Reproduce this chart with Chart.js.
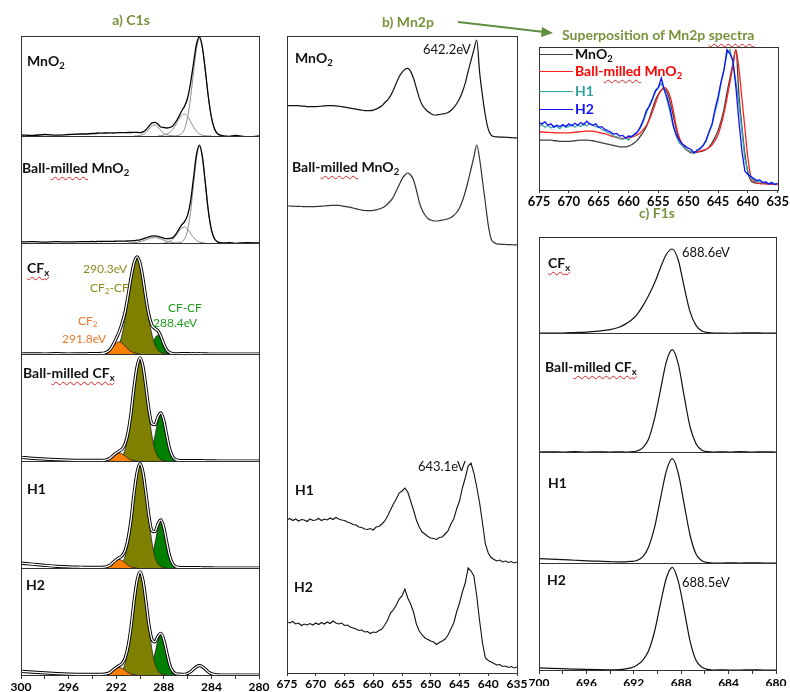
<!DOCTYPE html>
<html><head><meta charset="utf-8">
<script src="https://cdn.jsdelivr.net/npm/chart.js@4.4.1/dist/chart.umd.min.js"></script>
<style>
body{margin:0;background:#fff;width:790px;height:692px;position:relative;overflow:hidden;font-family:Lato,"Open Sans",sans-serif;}
canvas{position:absolute;left:0;top:0;}
.t{position:absolute;font-weight:bold;font-size:14px;white-space:nowrap;line-height:1;transform:translateY(-50%);color:#111;}
.c{transform:translate(-50%,-50%);}
.n{font-weight:normal;font-size:13px;}
.s{font-size:12px;}
.g{color:#77933C;font-size:14px;}
.sp{text-decoration:underline wavy #e02020;text-decoration-thickness:1px;text-underline-offset:3px;}
sub{font-size:68%;vertical-align:-0.28em;line-height:0;}
.lg{position:absolute;height:0;border-top:1.5px solid;}
</style></head><body>
<canvas id="c1s" width="790" height="692"></canvas>
<canvas id="mn2p" width="790" height="692"></canvas>
<canvas id="sup" width="790" height="692"></canvas>
<canvas id="f1s" width="790" height="692"></canvas>
<svg style="position:absolute;left:0;top:0" width="790" height="692"><line x1="458" y1="22" x2="544" y2="32" stroke="#5E8E3E" stroke-width="2"/><polygon points="553,33 542,27 541,37" fill="#5E8E3E"/></svg>

<div class="t g c" style="left:131px;top:20px">a) C1s</div>
<div class="t" style="left:27px;top:61px">MnO<sub>2</sub></div>
<div class="t" style="left:22px;top:168px">Ball-<span class="sp">milled</span> MnO<sub>2</sub></div>
<div class="t" style="left:27px;top:268px"><span class="sp">CF<sub>x</sub></span></div>
<div class="t n s" style="left:83px;top:269px;color:#8C8C1E">290.3eV</div>
<div class="t n s" style="left:90px;top:288px;color:#8C8C1E">CF<sub>2</sub>-CF</div>
<div class="t n s" style="left:78px;top:321px;color:#E8792A">CF<sub>2</sub></div>
<div class="t n s" style="left:62px;top:339px;color:#E8792A">291.8eV</div>
<div class="t n s" style="left:168px;top:308px;color:#1E9E1E">CF-CF</div>
<div class="t n s" style="left:153px;top:323px;color:#1E9E1E">288.4eV</div>
<div class="t" style="left:23px;top:373px">Ball-<span class="sp">milled CF<sub>x</sub></span></div>
<div class="t" style="left:27px;top:489px">H1</div>
<div class="t" style="left:26px;top:585px">H2</div>

<div class="t g c" style="left:408px;top:22px">b) Mn2p</div>
<div class="t" style="left:295px;top:58px">MnO<sub>2</sub></div>
<div class="t n" style="left:423px;top:49px">642.2eV</div>
<div class="t" style="left:292px;top:167px">Ball-<span class="sp">milled</span> MnO<sub>2</sub></div>
<div class="t n" style="left:418px;top:466px">643.1eV</div>
<div class="t" style="left:295px;top:490px">H1</div>
<div class="t" style="left:294px;top:587px">H2</div>

<div class="t g" style="left:562px;top:35px">Superposition of Mn2p <span class="sp">spectra</span></div>
<div class="lg" style="left:539px;top:54px;width:34px;border-color:#404040"></div>
<div class="t" style="left:575px;top:54px;color:#111">MnO<sub>2</sub></div>
<div class="lg" style="left:539px;top:71px;width:34px;border-color:#ff2020"></div>
<div class="t" style="left:575px;top:71px;color:#ff0000">Ball-<span class="sp">milled</span> MnO<sub>2</sub></div>
<div class="lg" style="left:539px;top:91px;width:34px;border-color:#3aa6a0"></div>
<div class="t" style="left:575px;top:91px;color:#30a0a0">H1</div>
<div class="lg" style="left:539px;top:109px;width:34px;border-color:#1010ff"></div>
<div class="t" style="left:575px;top:109px;color:#1010ff">H2</div>

<div class="t g c" style="left:657px;top:213px">c) F1s</div>
<div class="t" style="left:548px;top:263px"><span class="sp">CF<sub>x</sub></span></div>
<div class="t n" style="left:682px;top:252px">688.6eV</div>
<div class="t" style="left:545px;top:367px">Ball-<span class="sp">milled CF<sub>x</sub></span></div>
<div class="t" style="left:548px;top:483px">H1</div>
<div class="t" style="left:547px;top:580px">H2</div>
<div class="t n" style="left:682px;top:582px">688.5eV</div>

<script>
// ---------- C1s data ----------
const c1sEnergy = [300,299,298,297,296,295,294.5,294,293.75,293.5,293.25,293,292.75,292.5,292.25,292,291.75,291.5,291.25,291,290.75,290.5,290.25,290,289.75,289.5,289.25,289,288.75,288.5,288.25,288,287.75,287.5,287.25,287,286.75,286.5,286.25,286,285.75,285.5,285.25,285,284.75,284.5,284.25,284,283.75,283.5,283.25,283,282.5,282,281,280];
const c1sMnO2 = [.01,.005,.015,.008,.015,.02,.02,.025, .025,.03,.028,.03, .03,.032,.03,.032, .033,.033,.034,.035, .035,.036,.037,.033, .042,.063,.097,.13, .137,.12,.09,.085, .08,.085,.10,.14, .19,.25,.30,.38, .53,.73,.92,.99, .88,.645,.385,.19, .075,.025,.008,0, -.005,.005,-.008,0];
const c1sMnO2Comp1 = [[290.5,0],[290,.005],[289.5,.035],[289.25,.068],[289,.10],[288.75,.11],[288.5,.09],[288.25,.055],[288,.025],[287.5,.005],[287,0]];
const c1sMnO2Comp2 = [[288.5,0],[288,.01],[287.5,.035],[287.25,.065],[287,.11],[286.75,.165],[286.5,.205],[286.25,.22],[286,.195],[285.75,.145],[285.5,.09],[285.25,.048],[285,.02],[284.5,.003],[284,0]];
const c1sMnO2Comp3 = [[287,0],[286.5,.024],[286.25,.073],[286,.186],[285.75,.383],[285.5,.642],[285.25,.875],[285,.97],[284.75,.875],[284.5,.642],[284.25,.383],[284,.186],[283.75,.073],[283.5,.024],[283,0]];
const c1sBmMnO2 = [.01,.012,.008,.012,.01,.012,.012,.014, .013,.015,.014,.015, .015,.016,.016,.017, .017,.018,.018,.019, .02,.022,.026,.03, .038,.048,.058,.064, .066,.062,.054,.045, .04,.042,.05,.08, .125,.17,.20,.26, .39,.61,.83,.915, .80,.55,.295,.124, .042,.012,.004,0, .003,-.003,.004,0];
const c1sBmMnO2Comp1 = [[291,0],[290.5,.003],[290,.012],[289.5,.03],[289,.048],[288.75,.05],[288.5,.046],[288,.026],[287.5,.009],[287,.002],[286.5,0]];
const c1sBmMnO2Comp2 = [[288,0],[287.5,.014],[287.25,.034],[287,.067],[286.75,.107],[286.5,.14],[286.25,.15],[286,.129],[285.75,.091],[285.5,.052],[285.25,.024],[285,.009],[284.5,0]];
const c1sBmMnO2Comp3 = [[286.75,0],[286.5,.01],[286.25,.04],[286,.122],[285.75,.292],[285.5,.546],[285.25,.794],[285,.9],[284.75,.794],[284.5,.546],[284.25,.292],[284,.122],[283.75,.04],[283.5,.01],[283.25,0]];

const c1sCFx = [0,.002,0,.003,0,.002,.002,.003, .003,.004,.006,.009, .02,.042,.085,.14, .2,.28,.38,.53, .69,.82,.875,.82, .68,.50,.35,.26, .23,.21,.16,.09, .036,.012,.004,.002, .002,.003,.004,.003, .002,.003,.002,.003, .002,.002,0,0, 0,0,0,0, 0,0,0,0];
const cfxCF2 = [[293.75,0],[293.5,.001],[293.25,.004],[293,.01],[292.75,.022],[292.5,.042],[292.25,.07],[292,.097],[291.75,.11],[291.5,.097],[291.25,.07],[291,.042],[290.75,.022],[290.5,.01],[290.25,.004],[290,0]];
const cfxCF2CF = [[293,0],[292.75,.002],[292.5,.006],[292.25,.015],[292,.038],[291.75,.088],[291.5,.177],[291.25,.314],[291,.49],[290.75,.674],[290.5,.816],[290.25,.87],[290,.816],[289.75,.674],[289.5,.49],[289.25,.314],[289,.177],[288.75,.088],[288.5,.038],[288.25,.015],[288,.006],[287.75,.002],[287.5,0]];
const cfxCFCF = [[289.75,0],[289.5,.01],[289.25,.034],[289,.084],[288.75,.142],[288.5,.17],[288.25,.142],[288,.084],[287.75,.034],[287.5,.01],[287.25,.002],[287,0]];

const c1sBmCFx = [.035,.025,.018,.012,.008,.006,.005,.005, .005,.005,.005,.007, .014,.027,.052,.074, .092,.112,.16,.27, .45,.69,.88,.965, .885,.69,.48,.35, .34,.41,.45,.38, .24,.11,.04,.013, .006,.004,.003,.003, .003,.003,.004,.003, .003,.002,.002,.002, .001,0,0,0, 0,0,0,0];
const bmCF2 = [[293.5,0],[293,.003],[292.75,.01],[292.5,.024],[292.25,.046],[292,.066],[291.75,.075],[291.5,.066],[291.25,.046],[291,.024],[290.75,.01],[290.5,.003],[290.25,0]];
const bmCF2CF = [[292.25,0],[292,.004],[291.75,.013],[291.5,.042],[291.25,.109],[291,.24],[290.75,.44],[290.5,.68],[290.25,.88],[290,.96],[289.75,.88],[289.5,.68],[289.25,.44],[289,.24],[288.75,.109],[288.5,.042],[288.25,.013],[288,.004],[287.75,0]];
const bmCFCF = [[290,0],[289.75,.002],[289.5,.009],[289.25,.036],[289,.107],[288.75,.232],[288.5,.369],[288.25,.43],[288,.369],[287.75,.232],[287.5,.107],[287.25,.036],[287,.009],[286.75,.002],[286.5,0]];

const c1sH1 = [.045,.035,.025,.016,.01,.007,.006,.005, .005,.005,.006,.008, .015,.028,.054,.078, .097,.115,.165,.275, .455,.70,.89,.975, .895,.70,.485,.35, .34,.41,.45,.38, .24,.11,.04,.013, .006,.004,.003,.003, .003,.003,.003,.003, .002,.002,.002,.001, 0,0,0,0, 0,0,0,0];
const h1CF2 = [[293.5,0],[293,.003],[292.75,.011],[292.5,.026],[292.25,.049],[292,.07],[291.75,.08],[291.5,.07],[291.25,.049],[291,.026],[290.75,.011],[290.5,.003],[290.25,0]];
const h1CF2CF = [[292.25,0],[292,.004],[291.75,.014],[291.5,.043],[291.25,.11],[291,.242],[290.75,.444],[290.5,.686],[290.25,.89],[290,.97],[289.75,.89],[289.5,.686],[289.25,.444],[289,.242],[288.75,.11],[288.5,.043],[288.25,.014],[288,.004],[287.75,0]];
const h1CFCF = [[290,0],[289.75,.002],[289.5,.009],[289.25,.036],[289,.105],[288.75,.227],[288.5,.36],[288.25,.42],[288,.36],[287.75,.227],[287.5,.105],[287.25,.036],[287,.009],[286.75,.002],[286.5,0]];

const c1sH2 = [.035,.027,.02,.013,.008,.006,.005,.005, .005,.005,.006,.008, .013,.025,.048,.07, .088,.108,.158,.27, .45,.69,.88,.965, .885,.69,.47,.335, .31,.36,.39,.33, .21,.095,.035,.012, .008,.006,.007,.014, .03,.055,.077,.087, .077,.054,.028,.012, .005,.002,0,0, 0,0,0,0];
const h2CF2 = [[293.5,0],[293,.003],[292.75,.01],[292.5,.022],[292.25,.043],[292,.062],[291.75,.07],[291.5,.062],[291.25,.043],[291,.022],[290.75,.01],[290.5,.003],[290.25,0]];
const h2CF2CF = [[292.25,0],[292,.004],[291.75,.013],[291.5,.042],[291.25,.109],[291,.24],[290.75,.44],[290.5,.68],[290.25,.88],[290,.96],[289.75,.88],[289.5,.68],[289.25,.44],[289,.24],[288.75,.109],[288.5,.042],[288.25,.013],[288,.004],[287.75,0]];
const h2CFCF = [[290,0],[289.75,.002],[289.5,.008],[289.25,.031],[289,.092],[288.75,.20],[288.5,.317],[288.25,.37],[288,.317],[287.75,.20],[287.5,.092],[287.25,.031],[287,.008],[286.75,.002],[286.5,0]];

// ---------- Mn2p data (normalised) ----------
const mn2pEnergy = [675,674.5,674,673.5,673,672.5,672,671.5,671,670.5,670,669.5,669,668.5,668,667.5,667,666.5,666,665.5,665,664.5,664,663.5,663,662.5,662,661.5,661,660.5,660,659.5,659,658.5,658,657.5,657,656.5,656,655.5,655,654.5,654,653.5,653,652.5,652,651.5,651,650.5,650,649.5,649,648.5,648,647.5,647,646.5,646,645.5,645,644.5,644,643.5,643,642.5,642,641.5,641,640.5,640,639.5,639,638.5,638,637.5,637,636.5,636,635.5,635];
const mn2pMnO2 = [.33,.33,.33,.33,.33,.325,.325,.32,.32,.32, .32,.322,.325,.328,.33,.33,.33,.328,.325,.32, .315,.31,.305,.30,.295,.29,.285,.28,.28,.28, .285,.295,.31,.33,.36,.39,.43,.49,.56,.625, .67,.70,.71,.68,.61,.51,.41,.34,.30,.27, .25,.235,.235,.24,.245,.25,.26,.28,.31,.35, .40,.47,.56,.68,.79,.90,1.0,.67,.43,.23, .09,.03,.015,.012,.01,.01,.008,.006,.004,.002, 0];
const mn2pBmMnO2 = [.39,.39,.388,.387,.386,.385,.384,.383,.383,.383, .384,.386,.388,.39,.393,.395,.397,.397,.396,.392, .387,.382,.377,.37,.362,.355,.349,.345,.343,.343, .346,.352,.36,.37,.385,.41,.44,.48,.54,.60, .66,.70,.72,.70,.65,.55,.43,.35,.30,.265, .25,.242,.24,.243,.248,.255,.262,.275,.295,.325, .37,.44,.53,.64,.76,.88,1.0,.86,.64,.42, .20,.06,.025,.012,.008,.006,.005,.004,.003,.002, 0];
const mn2pH1 = [.43,.445,.425,.44,.42,.435,.43,.415,.44,.425, .43,.445,.425,.44,.43,.45,.435,.455,.44,.43, .425,.41,.40,.385,.38,.36,.355,.34,.335,.345, .33,.36,.365,.39,.42,.47,.53,.59,.64,.70, .72,.75,.71,.62,.53,.43,.36,.31,.29,.265, .25,.245,.235,.255,.26,.29,.32,.39,.44,.54, .62,.75,.85,.97,1.0,.90,.76,.60,.40,.19, .10,.055,.035,.02,.03,.01,.02,.005,.015,0, .01];
const mn2pH2 = [.46,.45,.465,.44,.45,.425,.44,.43,.445,.43, .45,.435,.455,.44,.46,.445,.47,.45,.44,.45, .425,.43,.41,.40,.39,.375,.38,.36,.365,.345, .36,.355,.375,.39,.43,.48,.55,.58,.63,.69, .72,.79,.70,.64,.56,.44,.37,.33,.30,.285, .27,.26,.235,.255,.27,.29,.33,.39,.45,.56, .65,.76,.85,1.0,.97,.92,.72,.47,.25,.10, .075,.06,.045,.03,.035,.015,.02,.005,.015,0, .01];

// ---------- F1s data ----------
const f1sEnergy = [700,699,698,697,696,695,694,693.25,692.75,692.25,691.75,691.25,690.75,690.25,689.75,689.25,688.75,688.25,687.75,687.25,686.75,686.25,685.75,685.25,684.5,684,683,682,681,680];
const f1sCFx = [0,0,0,.005,.01,.02,.035,.06,.09,.13,.19,.28,.39,.52,.68,.82,.875,.76,.48,.22,.08,.02,.005,0,0,-.003,0,.002,0,0];
const f1sBmCFx = [0,.002,0,.003,0,.002,0,.001,0,.002,.008,.035,.11,.28,.52,.76,.86,.74,.47,.21,.07,.015,.003,0,.002,0,.003,0,.002,0];
const f1sH1 = [.04,.035,.03,.025,.02,.016,.012,.01,.01,.014,.022,.055,.145,.32,.58,.83,.94,.81,.53,.25,.08,.02,.004,0,0,.002,0,.002,0,0];
const f1sH2 = [.02,.016,.012,.008,.005,.003,.002,.004,.009,.02,.045,.09,.18,.36,.62,.86,.96,.83,.56,.27,.09,.025,.006,0,.002,0,0,.002,0,0];

// ---------- helpers ----------
const FONT = 'Lato, "Open Sans", sans-serif';
const XY = (xs, ys) => xs.map((x, i) => ({x: x, y: ys[i]}));
const PR = pairs => pairs.map(p => ({x: p[0], y: p[1]}));
function ln(data, axis, color, width, order, extra) {
  return Object.assign({data: data, yAxisID: axis, borderColor: color, borderWidth: width, pointRadius: 0,
    fill: false, cubicInterpolationMode: 'monotone', order: order}, extra || {});
}
function area(data, axis, color, order) {
  return ln(data, axis, '#222', 0.8, order, {fill: 'origin', backgroundColor: color});
}
const boxPlugin = {
  id: 'boxes',
  afterDatasetsDraw(chart) {
    const ctx = chart.ctx, a = chart.chartArea;
    ctx.save(); ctx.strokeStyle = '#333'; ctx.lineWidth = 1;
    const ys = Object.values(chart.scales).filter(s => s.axis === 'y' && s.options.stack);
    const L = Math.round(a.left) + 0.5, W = Math.round(a.right) - Math.round(a.left);
    if (ys.length) ys.forEach(s => ctx.strokeRect(L, Math.round(s.top) + 0.5, W, Math.round(s.bottom) - Math.round(s.top)));
    else ctx.strokeRect(L, Math.round(a.top) + 0.5, W, Math.round(a.bottom) - Math.round(a.top));
    ctx.restore();
  }
};
function hiddenY(extra) {
  return Object.assign({type: 'linear', position: 'left', display: true, ticks: {display: false},
    grid: {display: false, drawTicks: false}, border: {display: false}, afterFit: s => { s.width = 0; }}, extra);
}
function xAxis(min, max, step, every, size, tick, pad) {
  return {type: 'linear', reverse: true, min: min, max: max, position: 'bottom',
    afterFit: s => { s.height = 16; },
    border: {display: false},
    grid: {display: true, drawOnChartArea: false, drawTicks: true, tickLength: tick, color: '#333'},
    ticks: {stepSize: step, autoSkip: false, maxRotation: 0, padding: pad, color: '#000',
      font: {family: FONT, size: size, weight: 'bold'},
      callback: v => (v % every === 0 ? String(v) : '')}};
}
function baseOpts(padding, scales) {
  return {responsive: false, animation: false, devicePixelRatio: 1, events: [],
    layout: {padding: padding}, scales: scales,
    plugins: {legend: {display: false}, tooltip: {enabled: false}}};
}
// stacked axes are laid out bottom-up in definition order, so define them from the bottom panel
function stackedAxes(target, prefix, stack, weights) {
  for (let i = weights.length - 1; i >= 0; i--) {
    target[prefix + i] = hiddenY({stack: stack, stackWeight: weights[i], min: 0, max: 1});
  }
  return target;
}

// ---------- C1s chart ----------
const c1sWeights = [100, 107, 111, 107, 107, 107];
const c1sScales = stackedAxes({x: xAxis(280, 300, 2, 4, 12, 4, 1)}, 'y', 'c1s', c1sWeights);
const OR = '#FF8000', OL = '#808000', GR = '#008000';
function cfSet(env, cf2, cf2cf, cfcf, ax) {
  return [
    ln(XY(c1sEnergy, env), ax, '#000', 3.2, 2),
    ln(XY(c1sEnergy, env), ax, '#fff', 1.3, 1),
    area(PR(cf2), ax, OR, 3),
    area(PR(cf2cf), ax, OL, 4),
    area(PR(cfcf), ax, GR, 5)
  ];
}
const c1sDatasets = [
  ln(XY(c1sEnergy, c1sMnO2), 'y0', '#000', 1.3, 1),
  ln(PR(c1sMnO2Comp1), 'y0', '#8a8a8a', 1, 5),
  ln(PR(c1sMnO2Comp2), 'y0', '#8a8a8a', 1, 5),
  ln(PR(c1sMnO2Comp3), 'y0', '#8a8a8a', 1, 5),
  ln(XY(c1sEnergy, c1sBmMnO2), 'y1', '#000', 1.3, 1),
  ln(PR(c1sBmMnO2Comp1), 'y1', '#8a8a8a', 1, 5),
  ln(PR(c1sBmMnO2Comp2), 'y1', '#8a8a8a', 1, 5),
  ln(PR(c1sBmMnO2Comp3), 'y1', '#8a8a8a', 1, 5)
].concat(cfSet(c1sCFx, cfxCF2, cfxCF2CF, cfxCFCF, 'y2'))
 .concat(cfSet(c1sBmCFx, bmCF2, bmCF2CF, bmCFCF, 'y3'))
 .concat(cfSet(c1sH1, h1CF2, h1CF2CF, h1CFCF, 'y4'))
 .concat(cfSet(c1sH2, h2CF2, h2CF2CF, h2CFCF, 'y5'));
new Chart(document.getElementById('c1s'), {type: 'line', data: {datasets: c1sDatasets},
  options: baseOpts({left: 21, right: 531, top: 36, bottom: 1}, c1sScales), plugins: [boxPlugin]});

// ---------- Mn2p chart ----------
const mn2pScales = {x: xAxis(635, 675, 5, 5, 12, 3, 1),
  m0: hiddenY({min: -5.459, max: 1.041}),
  m1: hiddenY({min: -4.28, max: 2.09}),
  m2: hiddenY({min: -1.10, max: 5.27}),
  m3: hiddenY({min: -0.05, max: 6.32})};
new Chart(document.getElementById('mn2p'), {type: 'line', data: {datasets: [
  ln(XY(mn2pEnergy, mn2pMnO2), 'm0', '#111', 1.2, 1),
  ln(XY(mn2pEnergy, mn2pBmMnO2), 'm1', '#333', 1.2, 1),
  ln(XY(mn2pEnergy, mn2pH1), 'm2', '#111', 1.1, 1, {cubicInterpolationMode: 'default', tension: 0}),
  ln(XY(mn2pEnergy, mn2pH2), 'm3', '#111', 1.1, 1, {cubicInterpolationMode: 'default', tension: 0})
]}, options: baseOpts({left: 287, right: 273, top: 36, bottom: 3}, mn2pScales), plugins: [boxPlugin]});

// ---------- Superposition inset ----------
new Chart(document.getElementById('sup'), {type: 'line', data: {datasets: [
  ln(XY(mn2pEnergy, mn2pMnO2), 'y', '#404040', 1.3, 4),
  ln(XY(mn2pEnergy, mn2pBmMnO2), 'y', '#ff2020', 1.3, 3),
  ln(XY(mn2pEnergy, mn2pH1), 'y', '#3aa6a0', 1.3, 2, {cubicInterpolationMode: 'default', tension: 0}),
  ln(XY(mn2pEnergy, mn2pH2), 'y', '#1010ff', 1.3, 1, {cubicInterpolationMode: 'default', tension: 0})
]}, options: baseOpts({left: 539, right: 9, top: 47, bottom: 486},
  {x: xAxis(635, 675, 5, 5, 13, 3, 1), y: hiddenY({min: -0.04, max: 1.02})}), plugins: [boxPlugin]});

// ---------- F1s chart ----------
const f1sWeights = [96, 119, 111, 107];
const f1sScales = stackedAxes({x: xAxis(680, 700, 2, 4, 12, 4, 2)}, 'f', 'f1s', f1sWeights);
new Chart(document.getElementById('f1s'), {type: 'line', data: {datasets: [
  ln(XY(f1sEnergy, f1sCFx), 'f0', '#111', 1.2, 1),
  ln(XY(f1sEnergy, f1sBmCFx), 'f1', '#111', 1.2, 1),
  ln(XY(f1sEnergy, f1sH1), 'f2', '#111', 1.2, 1),
  ln(XY(f1sEnergy, f1sH2), 'f3', '#111', 1.2, 1)
]}, options: baseOpts({left: 539, right: 14, top: 237, bottom: 6}, f1sScales), plugins: [boxPlugin]});
</script>
</body></html>
